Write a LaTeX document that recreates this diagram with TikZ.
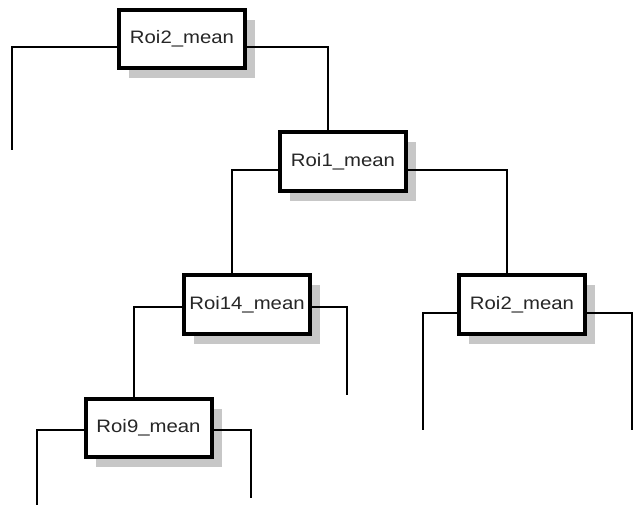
\documentclass[tikz,border=0pt]{standalone}
\usepackage{fontspec}
\newfontfamily\boxfont[FakeStretch=1.13]{Liberation Sans}
\usetikzlibrary{calc,shadows}

\begin{document}
\begin{tikzpicture}[
            x=0.75pt, y=-0.75pt,
            split box/.style = {
                draw, line width=3pt, fill=white,
                minimum width=94.5pt, minimum height=44pt,
                inner sep=0pt,
                font=\boxfont\fontsize{13.5}{15}\selectfont,
                text=black!85,
                drop shadow={shadow xshift=7.5pt, shadow yshift=-7.5pt,
                             fill=black!22, opacity=1}
            },
            branch/.style = {
                line width=1.5pt
            }
            ]

            \useasboundingbox (0,0) rectangle (634,508);

            \pgfmathsetmacro{\drop}{-15}

            % split nodes
            \node[split box] (roiTwoTop)   at (182, 39)    {Roi2\_mean};
            \node[split box] (roiOne)      at (343, 161.5) {Roi1\_mean};
            \node[split box] (roiFourteen) at (247, 304.5) {Roi14\_mean};
            \node[split box] (roiTwoRight) at (522, 304.5) {Roi2\_mean};
            \node[split box] (roiNine)     at (148.5, 428) {Roi9\_mean};

            % loose branch ends
            \coordinate (leafA) at (12, 150);
            \coordinate (leafB) at (347, 395);
            \coordinate (leafC) at (423, 430);
            \coordinate (leafD) at (632, 430);
            \coordinate (leafE) at (37, 505);
            \coordinate (leafF) at (251, 498);

            % branches
            \draw[branch] ($(roiTwoTop.west)+(0,8)$) -| (leafA);
            \draw[branch] ($(roiTwoTop.east)+(0,8)$) -| ($(roiOne.north)+(\drop,0)$);
            \draw[branch] ($(roiOne.west)+(0,8.5)$) -| ($(roiFourteen.north)+(\drop,0)$);
            \draw[branch] ($(roiOne.east)+(0,8.5)$) -| ($(roiTwoRight.north)+(\drop,0)$);
            \draw[branch] ($(roiFourteen.west)+(0,2.5)$) -| ($(roiNine.north)+(\drop,0)$);
            \draw[branch] ($(roiFourteen.east)+(0,2.5)$) -| (leafB);
            \draw[branch] ($(roiTwoRight.west)+(0,8.5)$) -| (leafC);
            \draw[branch] ($(roiTwoRight.east)+(0,8.5)$) -| (leafD);
            \draw[branch] ($(roiNine.west)+(0,2)$) -| (leafE);
            \draw[branch] ($(roiNine.east)+(0,2)$) -| (leafF);

        \end{tikzpicture}
\end{document}
